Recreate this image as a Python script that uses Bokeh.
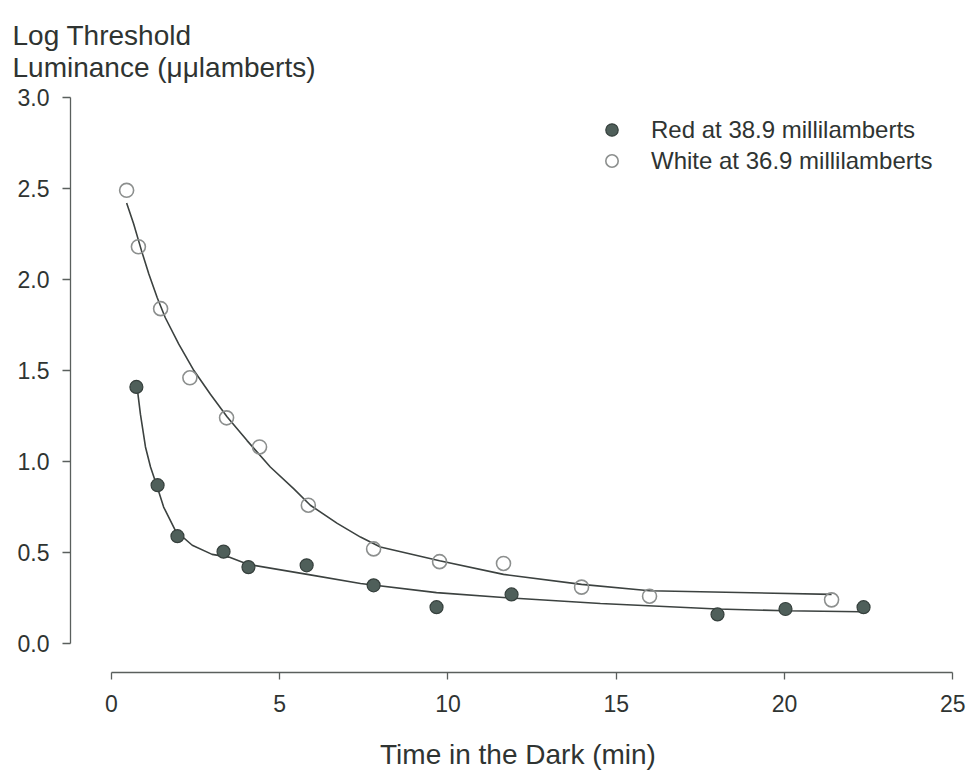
from bokeh.plotting import figure
from bokeh.models import (Range1d, FixedTicker, PrintfTickFormatter, Legend, LegendItem,
                          Title, LinearAxis)
from bokeh.embed import file_html
from bokeh.resources import INLINE

# ---- data ----
red_x = [0.74, 1.37, 1.96, 3.33, 4.07, 5.80, 7.79, 9.66, 11.89, 18.01, 20.03, 22.35]
red_y = [1.41, 0.87, 0.59, 0.505, 0.42, 0.43, 0.32, 0.20, 0.27, 0.16, 0.19, 0.20]

white_x = [0.45, 0.80, 1.46, 2.33, 3.42, 4.40, 5.85, 7.79, 9.75, 11.65, 13.97, 15.99, 21.40]
white_y = [2.49, 2.18, 1.84, 1.46, 1.24, 1.08, 0.76, 0.52, 0.45, 0.44, 0.31, 0.26, 0.24]

# fitted curves
red_fit_x = [0.76, 0.86, 1.01, 1.16, 1.36, 1.55, 1.90, 2.40, 2.99, 3.49, 4.07, 5.82, 7.40,
             9.66, 11.89, 14.53, 18.01, 20.03, 22.26]
red_fit_y = [1.41, 1.26, 1.08, 0.97, 0.86, 0.75, 0.62, 0.54, 0.49, 0.475, 0.435, 0.38, 0.33,
             0.28, 0.25, 0.22, 0.19, 0.18, 0.175]

white_fit_x = [0.45, 0.66, 0.89, 1.11, 1.36, 1.60, 2.00, 2.45, 2.94, 3.44, 4.03, 4.72, 5.42,
               5.91, 6.71, 7.40, 7.99, 9.75, 11.65, 13.97, 15.99, 21.40]
white_fit_y = [2.42, 2.305, 2.16, 2.03, 1.90, 1.79, 1.645, 1.50, 1.37, 1.245, 1.115, 0.97, 0.85,
               0.76, 0.66, 0.585, 0.53, 0.455, 0.38, 0.325, 0.29, 0.27]

x_ticks = [0, 5, 10, 15, 20, 25]
y_ticks = [0.0, 0.5, 1.0, 1.5, 2.0, 2.5, 3.0]

red_label = "Red at 38.9 millilamberts"
white_label = "White at 36.9 millilamberts"
x_title = "Time in the Dark (min)"
y_title = "Log Threshold\nLuminance (\u03bc\u03bclamberts)"

FONT = "Liberation Sans"
TXT = "#2f3432"
AX = "#5a5f5d"

W, H = 969, 772
p = figure(width=W, height=H, output_backend="svg", toolbar_location=None,
           x_range=Range1d(-1.218, 25.38), y_range=Range1d(-0.159, 3.0165),
           min_border_left=70, min_border_right=4, min_border_top=94, min_border_bottom=100,
           x_axis_location=None, y_axis_location=None)
p.outline_line_color = None
p.grid.visible = False
p.background_fill_color = "white"
p.border_fill_color = "white"

xaxis = LinearAxis(ticker=FixedTicker(ticks=x_ticks), bounds=(0, 25))
yaxis = LinearAxis(ticker=FixedTicker(ticks=y_ticks), bounds=(0, 3),
                   formatter=PrintfTickFormatter(format="%.1f"))
for ax in (xaxis, yaxis):
    ax.axis_line_color = AX
    ax.axis_line_width = 1.3
    ax.major_tick_line_color = AX
    ax.major_tick_line_width = 1.3
    ax.major_tick_in = 0
    ax.minor_tick_line_color = None
    ax.major_label_text_font = FONT
    ax.major_label_text_font_size = "23px"
    ax.major_label_text_color = TXT
xaxis.major_tick_out = 7
xaxis.major_label_standoff = 15
xaxis.axis_label = x_title
xaxis.axis_label_text_font = FONT
xaxis.axis_label_text_font_size = "28px"
xaxis.axis_label_text_font_style = "normal"
xaxis.axis_label_text_color = TXT
xaxis.axis_label_standoff = 24
yaxis.major_tick_out = 8
yaxis.major_label_standoff = 13
p.add_layout(xaxis, "below")
p.add_layout(yaxis, "left")

# curves
p.line(white_fit_x, white_fit_y, line_color="#3c4240", line_width=1.6)
p.line(red_fit_x, red_fit_y, line_color="#3c4240", line_width=1.6)

# points
r_red = p.scatter(red_x, red_y, size=13, marker="circle", fill_color="#4f5f5a",
                  line_color="#36403d", line_width=1.2)
r_white = p.scatter(white_x, white_y, size=14, marker="circle", fill_color=None,
                    line_color="#8c8f8e", line_width=1.6)

legend = Legend(items=[LegendItem(label=red_label, renderers=[r_red]),
                       LegendItem(label=white_label, renderers=[r_white])],
                location=(525, 496), orientation="vertical",
                glyph_width=33, glyph_height=31, label_height=31, spacing=0,
                label_standoff=23, padding=0, margin=0,
                border_line_color=None, background_fill_color=None,
                label_text_font=FONT, label_text_font_size="24px", label_text_color=TXT)
p.add_layout(legend, "center")

# two-line title at top-left
p.add_layout(Title(text=y_title, align="left", offset=-58, standoff=22, text_font=FONT,
                   text_font_size="28px", text_font_style="normal", text_color=TXT,
                   text_line_height=1.05),
             "above")

open("out.html", "w").write(file_html(p, INLINE))
